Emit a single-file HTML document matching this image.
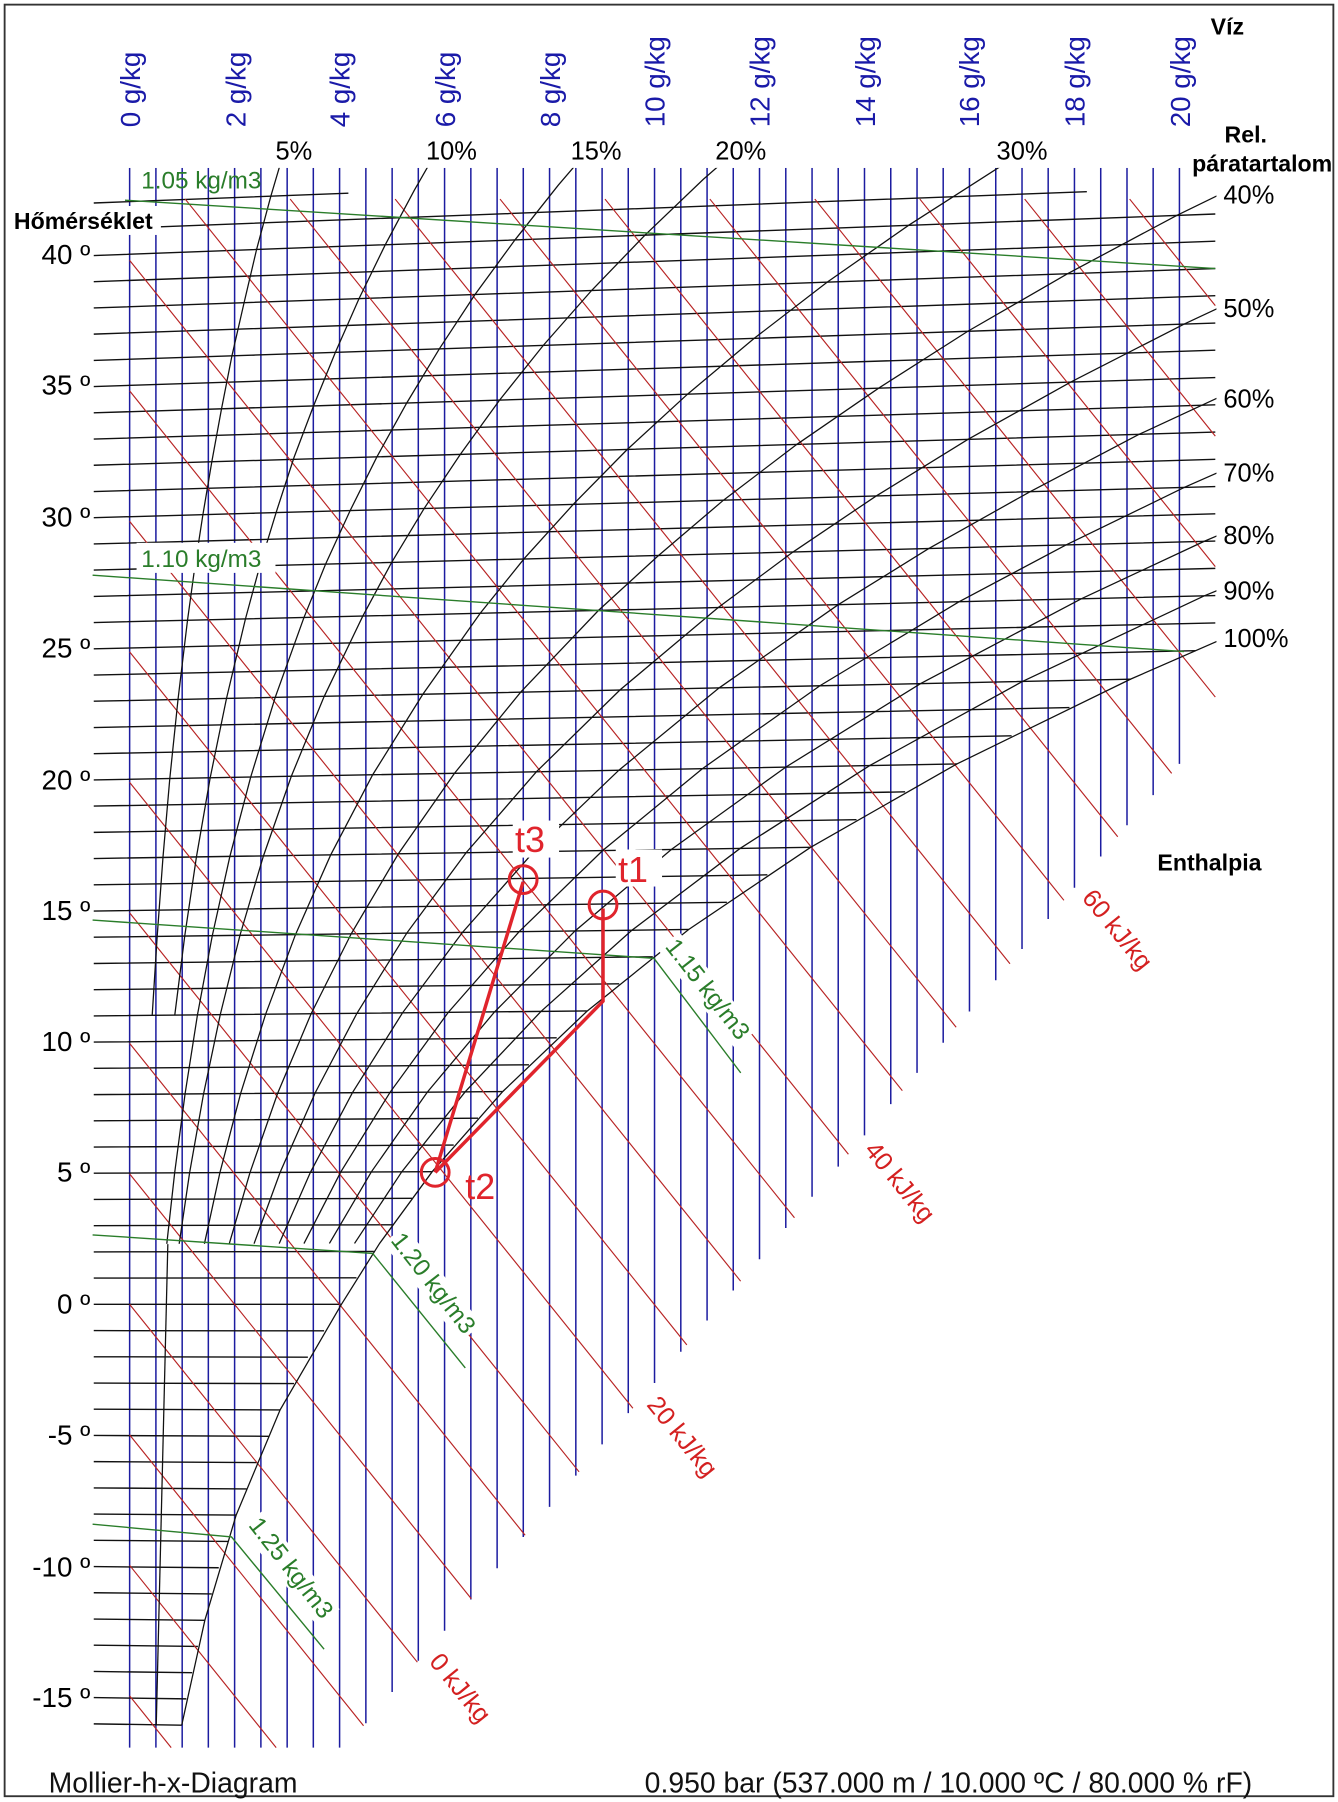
<!DOCTYPE html>
<html><head><meta charset="utf-8">
<style>
html,body{margin:0;padding:0;background:#fff;}
svg{display:block;}
text{font-family:"Liberation Sans",Arial,sans-serif;}
</style></head>
<body>
<svg xmlns="http://www.w3.org/2000/svg" width="1338" height="1802" viewBox="0 0 1156 1557" preserveAspectRatio="none">
<rect x="0" y="0" width="1156" height="1557" fill="#fff"/>
<rect x="4" y="4" width="1148" height="1548" fill="none" stroke="#333" stroke-width="1.6"/>
<defs><clipPath id="cp"><rect x="78" y="145" width="973" height="1366"/></clipPath></defs>
<g clip-path="url(#cp)" fill="none">
<path stroke="#1c1ca0" stroke-width="1.3" d="M112,145V1510 M134.7,145V1510 M157.4,145V1510 M180,145V1510 M202.7,145V1510 M225.4,145V1510 M248.1,145V1510 M270.7,145V1510 M293.4,145V1510 M316.1,145V1489 M338.8,145V1462 M361.4,145V1435 M384.1,145V1409 M406.8,145V1382 M429.5,145V1355 M452.1,145V1328 M474.8,145V1302 M497.5,145V1275 M520.2,145V1248 M542.8,145V1221 M565.5,145V1195 M588.2,145V1168 M610.9,145V1141 M633.5,145V1115 M656.2,145V1088 M678.9,145V1061 M701.6,145V1034 M724.2,145V1008 M746.9,145V981 M769.6,145V954 M792.3,145V927 M814.9,145V901 M837.6,145V874 M860.3,145V847 M883,145V820 M905.6,145V794 M928.3,145V767 M951,145V740 M973.7,145V713 M996.3,145V687 M1019,145V660"/>
<path stroke="#111" stroke-width="1.2" d="
M81,1489.5L157,1490.6 M81,1466.8L161,1467.9 M81,1444.2L166,1445.3 M81,1421.5L171,1422.6 M81,1398.9L177,1400 M81,1376.2L183,1377.2 M81,1353.6L189,1354.6 M81,1330.9L197,1331.9 M81,1308.2L204,1309.1 M81,1285.6L213,1286.5 M81,1262.9L222,1263.7 M81,1240.3L232,1241 M81,1217.6L242,1218.2 M81,1195L254,1195.5 M81,1172.3L266,1172.7 M81,1149.7L280,1149.9 M81,1127L295,1127
M81,1104.3L308,1104.1 M81,1081.7L323,1081.3 M81,1059L339,1058.3 M81,1036.4L356,1035.4 M81,1013.7L373,1012.4 M81,991.1L392,989.4 M81,968.4L413,966.2 M81,945.8L434,943.2 M81,923.1L457,920 M81,900.4L481,896.7 M81,877.8L507,873.5 M81,855.1L535,850.1 M81,832.5L564,826.7 M81,809.8L595,803.1 M81,787.2L628,779.6 M81,764.5L663,755.9 M81,741.8L700,732.1 M81,719.2L740,708.2 M81,696.5L782,684.2 M81,673.9L827,660.1 M81,651.2L874,635.8 M81,628.6L924,611.4 M81,605.9L977,586.8 M81,583.3L1033,562.2
M81,560.6L1050,538.2 M81,537.9L1050,514.6 M81,515.3L1050,491.1 M81,492.6L1050,467.5 M81,470L1050,444 M81,447.3L1050,420.4 M81,424.7L1050,396.9 M81,402L1050,373.3 M81,379.4L1050,349.8 M81,356.7L1050,326.2 M81,334L1050,302.6 M81,311.4L1050,279.1 M81,288.7L1050,255.5 M81,266.1L1050,232 M81,243.4L1050,208.4 M81,220.8L1050,184.9 M81,198.1L939,165.6 M81,175.4L301,166.9"/>
<path stroke="#b82424" stroke-width="1" d="
M112,1465.3L147.9,1510 M112,1352.5L238.6,1510 M112,1239.8L314.1,1491.1 M112,1127L360.6,1436.2 M112,1014.25L407.2,1381.4 M112,901.5L453.7,1326.5 M112,788.75L500.3,1271.7 M112,676L546.8,1216.8 M112,563.25L593.4,1162 M112,450.5L639.9,1107 M112,337.75L686.4,1052.2 M112,225L733,997.3
M160,172L779.6,942.4 M250.7,172L826.1,887.6 M341.4,172L872.6,832.7 M432,172L919.2,777.9 M522.7,172L965.7,723 M613.3,172L1012.3,668.2 M704,172L1050,602.3 M794.7,172L1050,489.6 M885.3,172L1050,376.8 M976,172L1050,264.1"/>
<g stroke="#111" stroke-width="1.1">
<polyline points="157,1490.6 177,1399.9 204,1309.2 242,1218.2 295,1127 328,1074.3 373.4,1012.4 434.4,943.1 507.4,873.5 595,803.1 700.2,732.2 826.7,660.1 976.8,586.8 1147,512.3"/>
<polyline points="306.3,1074.4 347.1,1012.5 401.9,943.4 467.4,873.9 545.9,803.8 639.4,733.1 751.4,661.5 883.4,588.8 1040.3,514.9 1160.5,464.9"/>
<polyline points="284.6,1074.4 320.8,1012.6 369.2,943.6 427.3,874.3 496.8,804.4 580,734 678.9,662.8 795.4,590.6 934.2,517.4 1039.8,468 1157.8,417.5"/>
<polyline points="262.6,1074.5 294.3,1012.8 337,943.8 387.3,874.7 448.5,805 520.6,735 606.8,664.2 708.4,592.5 828.5,520 920.6,471.1 1023.1,421.2 1137.3,370.8"/>
<polyline points="241.2,1074.5 268.2,1012.9 304.5,944.1 347.8,875.1 399.5,805.7 461.2,735.9 534.7,665.5 621.3,594.4 724.2,522.5 802.2,474.1 889.8,424.9 984.1,375.3 1092.9,324.9"/>
<polyline points="219.5,1074.6 242,1013 272.3,944.3 308.4,875.5 351.4,806.3 402.7,736.8 463.5,666.8 535.6,596.2 620.4,525 684.8,477.2 756.9,428.6 836.2,379.7 925.1,330.1 1023.1,280 1132,229.2"/>
<polyline points="198.1,1074.6 216,1013.1 239.9,944.6 268.8,875.9 303.4,806.9 344.2,737.7 392.7,668.1 449.9,598 517,527.5 568.7,480.2 624.9,432.3 688.4,384 759.1,335.4 836.2,286.2 922.4,236.5 1016.7,186.1 1122,135"/>
<polyline points="176.6,1074.7 190,1013.2 207.9,944.8 229.5,876.3 255.3,807.5 285.7,738.7 322,669.4 365.1,600.2 414.9,529.9 453,482.5 495.2,435.9 541.9,388.4 594.1,340.5 651.7,292.3 714.7,243.8 785,194.7 862.5,145 946.9,94.9"/>
<polyline points="154.8,1074.7 163.8,1013.4 175.9,945 190.3,876.7 207.3,808.2 227.6,739.6 251.7,670.7 279.8,602.4 313.4,532.4 338.3,486.1 366.4,439.4 397.7,392.6 431.7,345.6 469.4,298.4 511.1,251 557.3,203.1 607.7,154.9 663,106.5"/>
<polyline points="144.1,1074.7 150.9,1013.4 159.9,945.1 170.6,876.9 183.4,808.5 198.6,740 216.6,671.4 237.8,602.5 262.6,533.6 281.2,487.6 302.5,441.2 325.6,394.8 351.4,348.2 379.6,301.4 410.4,254.5 444.9,207.3 482.5,159.8 523.3,112.2"/>
<polyline points="151,877.1 159.6,808.8 169.7,740.5 181.6,672 195.7,603.4 212.1,534.6 224.6,488.6 238.7,442.4 254,395.3 270.9,350.7 289.8,304.4 310.2,258 332.9,211.4 357.8,164.7 384.6,117.8"/>
<polyline points="131.5,877.3 135.8,809.1 140.8,740.9 146.7,672.7 153.8,604.3 162,536 168.2,490.7 175.3,444.7 183,399 191.4,353.2 200.4,307.4 210.9,261.5 221.7,215.5 234,169.5 247.6,123.4"/>
<polyline points="145,1075 135,1490"/>
</g>
<g stroke="#2a7d2a" stroke-width="1.2">
<polyline points="108,173 1050,232"/>
<polyline points="80,497 1023,563"/>
<polyline points="80,795 565,828 640,927"/>
<polyline points="80,1067 322,1083 402,1182"/>
<polyline points="80,1317 200,1328 280,1425"/>
</g>
</g>

<g font-size="24" fill="#1a1aa8">
<text transform="translate(121,110) rotate(-90)">0 g/kg</text>
<text transform="translate(212,110) rotate(-90)">2 g/kg</text>
<text transform="translate(302,110) rotate(-90)">4 g/kg</text>
<text transform="translate(393,110) rotate(-90)">6 g/kg</text>
<text transform="translate(484,110) rotate(-90)">8 g/kg</text>
<text transform="translate(574,110) rotate(-90)">10 g/kg</text>
<text transform="translate(665,110) rotate(-90)">12 g/kg</text>
<text transform="translate(756,110) rotate(-90)">14 g/kg</text>
<text transform="translate(846,110) rotate(-90)">16 g/kg</text>
<text transform="translate(937,110) rotate(-90)">18 g/kg</text>
<text transform="translate(1028,110) rotate(-90)">20 g/kg</text>
</g>
<g font-size="22" fill="#000">
<text x="238" y="138">5%</text>
<text x="368" y="138">10%</text>
<text x="493" y="138">15%</text>
<text x="618" y="138">20%</text>
<text x="861" y="138">30%</text>
<text x="1057" y="176">40%</text>
<text x="1057" y="274">50%</text>
<text x="1057" y="352">60%</text>
<text x="1057" y="416">70%</text>
<text x="1057" y="470">80%</text>
<text x="1057" y="518">90%</text>
<text x="1057" y="559">100%</text>
</g>
<g font-size="20" font-weight="bold" fill="#000">
<text x="1046" y="30">Víz</text>
<text x="1058" y="123">Rel.</text>
<text x="1030" y="148">páratartalom</text>
<rect x="9" y="178" width="130" height="25" fill="#fff"/>
<text x="12" y="198">Hőmérséklet</text>
<text x="1000" y="752">Enthalpia</text>
</g>
<g font-size="24" fill="#000" text-anchor="end">
<text x="78" y="228">40 º</text>
<text x="78" y="341">35 º</text>
<text x="78" y="455">30 º</text>
<text x="78" y="568">25 º</text>
<text x="78" y="682">20 º</text>
<text x="78" y="795">15 º</text>
<text x="78" y="908">10 º</text>
<text x="78" y="1021">5 º</text>
<text x="78" y="1135">0 º</text>
<text x="78" y="1248">-5 º</text>
<text x="78" y="1362">-10 º</text>
<text x="78" y="1475">-15 º</text>
</g>
<g font-size="22" fill="#d42020">
<text transform="translate(370,1436) rotate(51)">0 kJ/kg</text>
<text transform="translate(558,1214) rotate(51)">20 kJ/kg</text>
<text transform="translate(746,994) rotate(51)">40 kJ/kg</text>
<text transform="translate(934,776) rotate(51)">60 kJ/kg</text>
</g>
<g font-size="21" fill="#2a7d2a">
<text x="122" y="163">1.05 kg/m3</text>
<rect x="118" y="469" width="120" height="26" fill="#fff"/>
<text x="122" y="490">1.10 kg/m3</text>
<g transform="translate(574,818) rotate(52)"><rect x="-2" y="-18" width="108" height="24" fill="#fff"/><text>1.15 kg/m3</text></g>
<g transform="translate(337,1072) rotate(52)"><rect x="-2" y="-18" width="108" height="24" fill="#fff"/><text>1.20 kg/m3</text></g>
<g transform="translate(214,1318) rotate(52)"><rect x="-2" y="-18" width="108" height="24" fill="#fff"/><text>1.25 kg/m3</text></g>
</g>
<g stroke="#e0242c" stroke-width="3" fill="none">
<polyline points="376,1013 452,762"/>
<polyline points="376,1013 521,865 521,785"/>
<circle cx="452" cy="760" r="12" stroke-width="2.6"/>
<circle cx="521" cy="782" r="12" stroke-width="2.6"/>
<circle cx="376" cy="1013" r="12" stroke-width="2.6"/>
</g>
<g font-size="31" fill="#e0242c">
<rect x="443" y="709" width="40" height="32" fill="#fff"/>
<text x="445" y="736">t3</text>
<rect x="532" y="734" width="40" height="32" fill="#fff"/>
<text x="534" y="762">t1</text>
<text x="402" y="1036">t2</text>
</g>
<g font-size="24.5" fill="#111">
<text x="42" y="1549">Mollier-h-x-Diagram</text>
<text x="557" y="1549">0.950 bar (537.000 m / 10.000 ºC / 80.000 % rF)</text>
</g>
</svg>
</body></html>
